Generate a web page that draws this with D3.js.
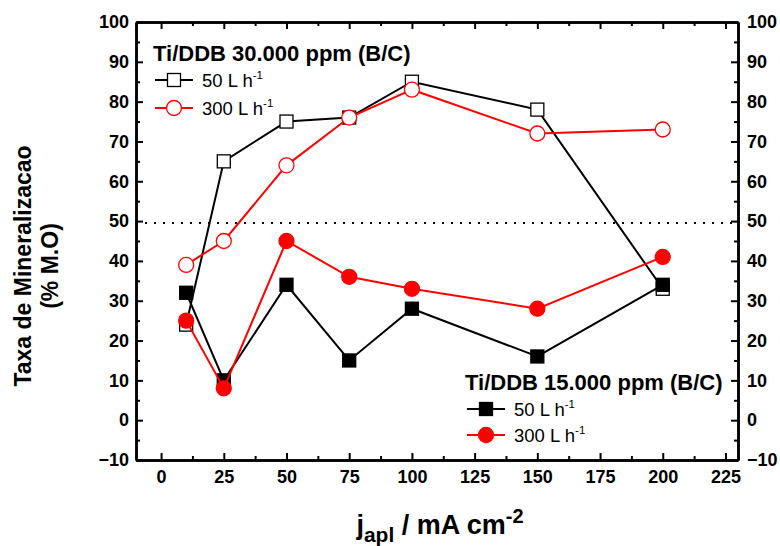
<!DOCTYPE html>
<html>
<head>
<meta charset="utf-8">
<script src="https://cdn.jsdelivr.net/npm/d3@7"></script>
<style>
  body { margin: 0; background: #fff; }
  text { font-family: "Liberation Sans", Arial, sans-serif; }
</style>
</head>
<body>
<div id="chart"></div>
<script>
const jApl = [10, 25, 50, 75, 100, 150, 200];
// Ti/DDB 30.000 ppm
const hi50 = [24, 65, 75, 76, 85, 78, 33];
const hi300 = [39, 45, 64, 76, 83, 72, 73];
// Ti/DDB 15.000 ppm
const lo50 = [32, 10, 34, 15, 28, 16, 34];
const lo300 = [25, 8, 45, 36, 33, 28, 41];
const xTicks = [0, 25, 50, 75, 100, 125, 150, 175, 200, 225];
const yTicks = [-10, 0, 10, 20, 30, 40, 50, 60, 70, 80, 90, 100];
const refLine = 49.5;

const W = 780, H = 546;
const margin = { top: 22, right: 42, bottom: 86, left: 136 };

const svg = d3.select("#chart").append("svg")
    .attr("width", W).attr("height", H);

const x = d3.scaleLinear().domain([-10, 230]).range([margin.left, W - margin.right]);
const y = d3.scaleLinear().domain([-10, 100]).range([H - margin.bottom, margin.top]);

// minor ticks
const xMinor = d3.range(-0, 230, 12.5).filter(v => !xTicks.includes(v));
const yMinor = d3.range(-5, 100, 10);

function styleAxis(g) {
    g.selectAll("path").attr("stroke", "#000").attr("stroke-width", 2.5);
    g.selectAll("line").attr("stroke", "#000").attr("stroke-width", 2);
    g.selectAll("text").attr("font-size", 18).attr("font-weight", "bold").attr("fill", "#000");
}

// bottom
svg.append("g").attr("transform", `translate(0,${y(-10)})`)
    .call(d3.axisBottom(x).tickValues(xTicks).tickSize(-7).tickPadding(10).tickSizeOuter(0))
    .call(styleAxis);
svg.append("g").attr("transform", `translate(0,${y(-10)})`)
    .call(d3.axisBottom(x).tickValues(xMinor).tickSize(-4).tickFormat("").tickSizeOuter(0))
    .call(styleAxis);
// top
svg.append("g").attr("transform", `translate(0,${y(100)})`)
    .call(d3.axisTop(x).tickValues(xTicks).tickSize(-7).tickFormat("").tickSizeOuter(0))
    .call(styleAxis);
svg.append("g").attr("transform", `translate(0,${y(100)})`)
    .call(d3.axisTop(x).tickValues(xMinor).tickSize(-4).tickFormat("").tickSizeOuter(0))
    .call(styleAxis);
// left
svg.append("g").attr("transform", `translate(${x(-10)},0)`)
    .call(d3.axisLeft(y).tickValues(yTicks).tickSize(-7).tickPadding(7).tickSizeOuter(0))
    .call(styleAxis);
svg.append("g").attr("transform", `translate(${x(-10)},0)`)
    .call(d3.axisLeft(y).tickValues(yMinor).tickSize(-4).tickFormat("").tickSizeOuter(0))
    .call(styleAxis);
// right
svg.append("g").attr("transform", `translate(${x(230)},0)`)
    .call(d3.axisRight(y).tickValues(yTicks).tickSize(-7).tickPadding(9).tickSizeOuter(0))
    .call(styleAxis);
svg.append("g").attr("transform", `translate(${x(230)},0)`)
    .call(d3.axisRight(y).tickValues(yMinor).tickSize(-4).tickFormat("").tickSizeOuter(0))
    .call(styleAxis);

// dotted reference line
svg.append("line")
    .attr("x1", x(-10)).attr("x2", x(230))
    .attr("y1", y(refLine)).attr("y2", y(refLine))
    .attr("stroke", "#000").attr("stroke-width", 2)
    .attr("stroke-dasharray", "2,7");

const line = d3.line().x(d => x(d[0])).y(d => y(d[1]));

const series = [
    { vals: hi50, color: "#000", shape: "square", fill: "#fff" },
    { vals: hi300, color: "#f00", shape: "circle", fill: "#fff" },
    { vals: lo50, color: "#000", shape: "square", fill: "#000" },
    { vals: lo300, color: "#f00", shape: "circle", fill: "#f00" },
];

function marker(g, shape, color, fill) {
    if (shape === "square") {
        g.append("rect").attr("x", -6.5).attr("y", -6.5).attr("width", 13).attr("height", 13)
            .attr("fill", fill).attr("stroke", color).attr("stroke-width", 1.3);
    } else {
        g.append("circle").attr("r", 7.5)
            .attr("fill", fill).attr("stroke", color).attr("stroke-width", 1.3);
    }
}

series.forEach(s => {
    const pts = jApl.map((j, i) => [j, s.vals[i]]);
    svg.append("path").datum(pts)
        .attr("d", line).attr("fill", "none")
        .attr("stroke", s.color).attr("stroke-width", 2);
    pts.forEach(p => {
        const g = svg.append("g").attr("transform", `translate(${x(p[0])},${y(p[1])})`);
        marker(g, s.shape, s.color, s.fill);
    });
});

// legends
function legend(x0, y0, gap, title, items) {
    const g = svg.append("g").attr("transform", `translate(${x0},${y0})`);
    g.append("text").attr("x", 0).attr("y", 0)
        .attr("font-size", 22).attr("font-weight", "bold").text(title);
    items.forEach((it, i) => {
        const yy = 19 + i * gap;
        g.append("line").attr("x1", 2).attr("x2", 40).attr("y1", yy).attr("y2", yy)
            .attr("stroke", it.color).attr("stroke-width", 2);
        const m = g.append("g").attr("transform", `translate(21,${yy})`);
        marker(m, it.shape, it.color, it.fill);
        const t = g.append("text").attr("x", 49).attr("y", yy + 7).attr("font-size", 18.5);
        t.append("tspan").text(it.label);
        t.append("tspan").attr("dy", -8).attr("font-size", 11.5).text("-1");
    });
}

legend(153, 61, 28, "Ti/DDB 30.000 ppm (B/C)", [
    { label: "50 L h", color: "#000", shape: "square", fill: "#fff" },
    { label: "300 L h", color: "#f00", shape: "circle", fill: "#fff" },
]);
legend(465, 390, 26, "Ti/DDB 15.000 ppm (B/C)", [
    { label: "50 L h", color: "#000", shape: "square", fill: "#000" },
    { label: "300 L h", color: "#f00", shape: "circle", fill: "#f00" },
]);

// y title
const yt = svg.append("text")
    .attr("transform", "translate(31,266) rotate(-90)")
    .attr("text-anchor", "middle").attr("font-size", 23).attr("font-weight", "bold");
yt.append("tspan").attr("x", 0).attr("dy", 0).text("Taxa de Mineralizacao");
yt.append("tspan").attr("x", 0).attr("dy", 27).text("(% M.O)");

// x title
const xt = svg.append("text")
    .attr("x", 440).attr("y", 534)
    .attr("text-anchor", "middle").attr("font-size", 27).attr("font-weight", "bold");
xt.append("tspan").text("j");
xt.append("tspan").attr("dy", 8).attr("font-size", 21).text("apl");
xt.append("tspan").attr("dy", -8).text(" / mA cm");
xt.append("tspan").attr("dy", -11).attr("font-size", 20).text("-2");
</script>
</body>
</html>
